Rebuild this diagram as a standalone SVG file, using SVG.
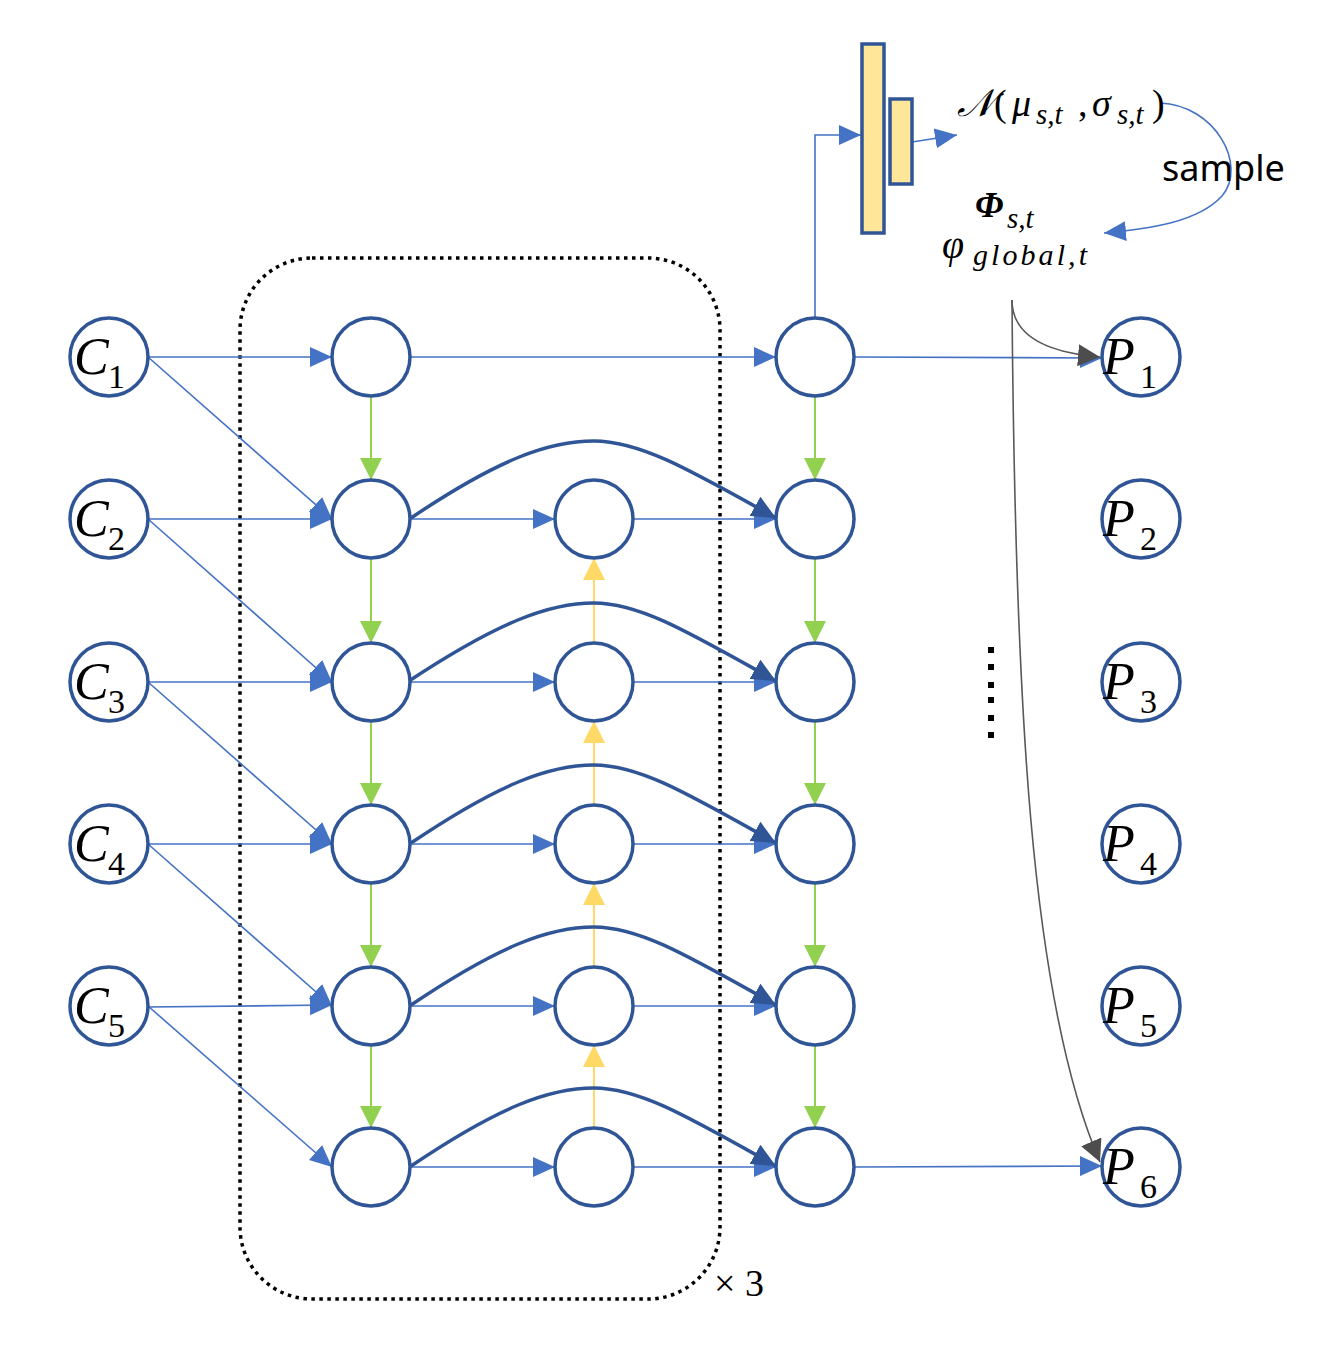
<svg xmlns="http://www.w3.org/2000/svg" width="1344" height="1352" viewBox="0 0 1344 1352">
<style>
.node{fill:#fff;stroke:#2F5597;stroke-width:3.5}
.lbl{font-family:"Liberation Serif","DejaVu Serif",serif;font-style:italic;font-size:52px;fill:#000}
.sub{font-family:"Liberation Serif","DejaVu Serif",serif;font-size:34px;fill:#000}
.thin{fill:none;stroke:#4472C4;stroke-width:1.6}
.green{fill:none;stroke:#92D050;stroke-width:2}
.yellow{fill:none;stroke:#FFD966;stroke-width:2}
.arc{fill:none;stroke:#2F5597;stroke-width:3.5}
.gray{fill:none;stroke:#595959;stroke-width:1.6}
.math{font-family:"Liberation Serif","DejaVu Serif",serif;font-style:italic;fill:#000}
</style>
<defs>
<marker id="ab" markerUnits="userSpaceOnUse" viewBox="0 0 22 20" refX="22" refY="10" markerWidth="22" markerHeight="20" orient="auto"><path d="M0,0L22,10L0,20z" fill="#4472C4"/></marker>
<marker id="ag" markerUnits="userSpaceOnUse" viewBox="0 0 22 22" refX="22" refY="11" markerWidth="22" markerHeight="22" orient="auto"><path d="M0,0L22,11L0,22z" fill="#92D050"/></marker>
<marker id="ay" markerUnits="userSpaceOnUse" viewBox="0 0 22 22" refX="22" refY="11" markerWidth="22" markerHeight="22" orient="auto"><path d="M0,0L22,11L0,22z" fill="#FFD966"/></marker>
<marker id="ad" markerUnits="userSpaceOnUse" viewBox="0 0 24 22" refX="24" refY="11" markerWidth="24" markerHeight="22" orient="auto"><path d="M0,0L24,11L0,22z" fill="#2F5597"/></marker>
<marker id="agr" markerUnits="userSpaceOnUse" viewBox="0 0 22 22" refX="22" refY="11" markerWidth="22" markerHeight="22" orient="auto"><path d="M0,0L22,11L0,22z" fill="#4D4D4D"/></marker>
</defs>
<rect width="1344" height="1352" fill="#fff"/>

<!-- repeat block -->
<rect x="240" y="258" width="480" height="1041" rx="72" ry="72" fill="none" stroke="#000" stroke-width="3.5" stroke-dasharray="3.5 4.5"/>
<text x="714" y="1296" font-family="Liberation Serif,serif" font-size="38" fill="#000">× 3</text>

<g id="connectors">
<path class="thin" marker-end="url(#ab)" d="M148,357H332"/>
<path class="thin" marker-end="url(#ab)" d="M148,519H332"/>
<path class="thin" marker-end="url(#ab)" d="M148,682H332"/>
<path class="thin" marker-end="url(#ab)" d="M148,844H332"/>
<path class="thin" marker-end="url(#ab)" d="M148,1007L332,1005"/>
<path class="thin" marker-end="url(#ab)" d="M148,357L332,519"/>
<path class="thin" marker-end="url(#ab)" d="M148,519L332,682"/>
<path class="thin" marker-end="url(#ab)" d="M148,682L332,844"/>
<path class="thin" marker-end="url(#ab)" d="M148,844L332,1006"/>
<path class="thin" marker-end="url(#ab)" d="M148,1006L332,1167"/>
<path class="green" marker-end="url(#ag)" d="M371,397V480"/>
<path class="green" marker-end="url(#ag)" d="M371,559V643"/>
<path class="green" marker-end="url(#ag)" d="M371,722V805"/>
<path class="green" marker-end="url(#ag)" d="M371,884V967"/>
<path class="green" marker-end="url(#ag)" d="M371,1046V1128"/>
<path class="green" marker-end="url(#ag)" d="M815,397V480"/>
<path class="green" marker-end="url(#ag)" d="M815,559V643"/>
<path class="green" marker-end="url(#ag)" d="M815,722V805"/>
<path class="green" marker-end="url(#ag)" d="M815,884V967"/>
<path class="green" marker-end="url(#ag)" d="M815,1046V1128"/>
<path class="yellow" marker-end="url(#ay)" d="M594,643V558"/>
<path class="yellow" marker-end="url(#ay)" d="M594,805V721"/>
<path class="yellow" marker-end="url(#ay)" d="M594,967V883"/>
<path class="yellow" marker-end="url(#ay)" d="M594,1128V1045"/>
<path class="thin" marker-end="url(#ab)" d="M410,357H776"/>
<path class="thin" marker-end="url(#ab)" d="M410,519H555"/>
<path class="thin" marker-end="url(#ab)" d="M633,519H776"/>
<path class="thin" marker-end="url(#ab)" d="M410,682H555"/>
<path class="thin" marker-end="url(#ab)" d="M633,682H776"/>
<path class="thin" marker-end="url(#ab)" d="M410,844H555"/>
<path class="thin" marker-end="url(#ab)" d="M633,844H776"/>
<path class="thin" marker-end="url(#ab)" d="M410,1006H555"/>
<path class="thin" marker-end="url(#ab)" d="M633,1006H776"/>
<path class="thin" marker-end="url(#ab)" d="M410,1167H555"/>
<path class="thin" marker-end="url(#ab)" d="M633,1167H776"/>
<path class="arc" marker-end="url(#ad)" d="M411,518C500,458 550,441 594,441C640,441 690,470 776,518"/>
<path class="arc" marker-end="url(#ad)" d="M409,681C500,621 550,603 594,603C640,603 690,633 776,681"/>
<path class="arc" marker-end="url(#ad)" d="M411,843C500,783 550,765 594,765C640,765 690,795 776,843"/>
<path class="arc" marker-end="url(#ad)" d="M411,1005C500,945 550,927 594,927C640,927 690,957 776,1005"/>
<path class="arc" marker-end="url(#ad)" d="M411,1166C500,1106 550,1088 594,1088C640,1088 690,1118 776,1166"/>
<path class="thin" marker-end="url(#ab)" d="M855,357L1102,358"/>
<path class="thin" marker-end="url(#ab)" d="M855,1167L1102,1166"/>
<path class="thin" marker-end="url(#ab)" d="M815,318V135H861"/>
<path class="thin" marker-end="url(#ab)" d="M912,142L957,135"/>
<path class="thin" marker-end="url(#ab)" d="M1160,103C1215,105 1248,165 1222,196C1198,222 1150,229 1104,233"/>
<path class="gray" marker-end="url(#agr)" d="M1012,300C1012,332 1040,352 1100,357"/>
<path class="gray" marker-end="url(#agr)" d="M1012,300C1015,700 1030,1000 1100,1162"/>
</g>

<g id="dense">
<rect x="862" y="44" width="22" height="189" fill="#FFE699" stroke="#2F5597" stroke-width="3.5"/>
<rect x="890" y="99" width="22" height="85" fill="#FFE699" stroke="#2F5597" stroke-width="3.5"/>
</g>

<g id="dist" class="math">
<text x="957" y="116" font-size="38">𝒩</text>
<text x="994" y="116" font-size="38" font-style="normal">(</text>
<text x="1012" y="116" font-size="38">μ</text>
<text x="1036" y="124" font-size="29">s,t</text>
<text x="1078" y="116" font-size="38" font-style="normal">,</text>
<text x="1092" y="116" font-size="38">σ</text>
<text x="1117" y="124" font-size="29">s,t</text>
<text x="1152" y="116" font-size="38" font-style="normal">)</text>
</g>
<text x="1162" y="181" font-family="Noto Sans,Open Sans,sans-serif" font-size="36" fill="#000">sample</text>
<g id="phi" class="math">
<text x="975" y="217" font-size="36" font-weight="bold">Φ</text>
<text x="1007" y="228" font-size="29">s,t</text>
<text x="942" y="258" font-size="40">φ</text>
<text x="973" y="265" font-size="30" textLength="114" lengthAdjust="spacing">global,t</text>
</g>

<g id="dots" fill="#000">
<rect x="988" y="647" width="6" height="6"/>
<rect x="988" y="664" width="6" height="6"/>
<rect x="988" y="682" width="6" height="6"/>
<rect x="988" y="697" width="6" height="6"/>
<rect x="988" y="715" width="6" height="6"/>
<rect x="988" y="732" width="6" height="6"/>
</g>

<g id="C1"><circle class="node" cx="109" cy="357" r="39"/><text class="lbl" x="74" y="374">C</text><text class="sub" x="108" y="388">1</text></g>
<g id="C2"><circle class="node" cx="109" cy="519" r="39"/><text class="lbl" x="74" y="536">C</text><text class="sub" x="108" y="550">2</text></g>
<g id="C3"><circle class="node" cx="109" cy="682" r="39"/><text class="lbl" x="74" y="699">C</text><text class="sub" x="108" y="713">3</text></g>
<g id="C4"><circle class="node" cx="109" cy="844" r="39"/><text class="lbl" x="74" y="861">C</text><text class="sub" x="108" y="875">4</text></g>
<g id="C5"><circle class="node" cx="109" cy="1006" r="39"/><text class="lbl" x="74" y="1023">C</text><text class="sub" x="108" y="1037">5</text></g>

<g id="n1_1"><circle class="node" cx="371" cy="357" r="39"/></g>
<g id="n1_2"><circle class="node" cx="371" cy="519" r="39"/></g>
<g id="n1_3"><circle class="node" cx="371" cy="682" r="39"/></g>
<g id="n1_4"><circle class="node" cx="371" cy="844" r="39"/></g>
<g id="n1_5"><circle class="node" cx="371" cy="1006" r="39"/></g>
<g id="n1_6"><circle class="node" cx="371" cy="1167" r="39"/></g>
<g id="n2_2"><circle class="node" cx="594" cy="519" r="39"/></g>
<g id="n2_3"><circle class="node" cx="594" cy="682" r="39"/></g>
<g id="n2_4"><circle class="node" cx="594" cy="844" r="39"/></g>
<g id="n2_5"><circle class="node" cx="594" cy="1006" r="39"/></g>
<g id="n2_6"><circle class="node" cx="594" cy="1167" r="39"/></g>
<g id="n3_1"><circle class="node" cx="815" cy="357" r="39"/></g>
<g id="n3_2"><circle class="node" cx="815" cy="519" r="39"/></g>
<g id="n3_3"><circle class="node" cx="815" cy="682" r="39"/></g>
<g id="n3_4"><circle class="node" cx="815" cy="844" r="39"/></g>
<g id="n3_5"><circle class="node" cx="815" cy="1006" r="39"/></g>
<g id="n3_6"><circle class="node" cx="815" cy="1167" r="39"/></g>

<g id="P1"><circle class="node" cx="1141" cy="357" r="39"/><text class="lbl" x="1103" y="374">P</text><text class="sub" x="1140" y="388">1</text></g>
<g id="P2"><circle class="node" cx="1141" cy="519" r="39"/><text class="lbl" x="1103" y="536">P</text><text class="sub" x="1140" y="550">2</text></g>
<g id="P3"><circle class="node" cx="1141" cy="682" r="39"/><text class="lbl" x="1103" y="699">P</text><text class="sub" x="1140" y="713">3</text></g>
<g id="P4"><circle class="node" cx="1141" cy="844" r="39"/><text class="lbl" x="1103" y="861">P</text><text class="sub" x="1140" y="875">4</text></g>
<g id="P5"><circle class="node" cx="1141" cy="1006" r="39"/><text class="lbl" x="1103" y="1023">P</text><text class="sub" x="1140" y="1037">5</text></g>
<g id="P6"><circle class="node" cx="1141" cy="1167" r="39"/><text class="lbl" x="1103" y="1184">P</text><text class="sub" x="1140" y="1198">6</text></g>
</svg>
